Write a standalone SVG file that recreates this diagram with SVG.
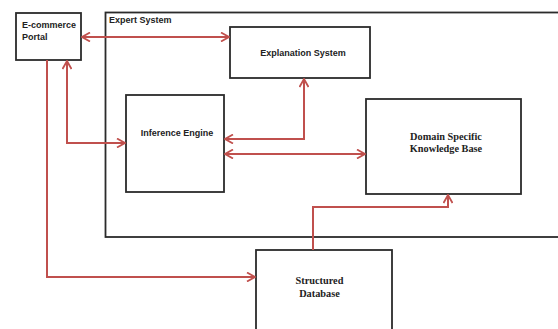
<svg xmlns="http://www.w3.org/2000/svg" width="558" height="329" viewBox="0 0 558 329">
<style>
.box{fill:#fff;stroke:#2b2b2b;stroke-width:1.8}
.sans{font-family:"Liberation Sans",Arial,sans-serif;font-weight:bold;font-size:9px;fill:#222}
.serif{font-family:"Liberation Serif","Times New Roman",serif;font-weight:bold;font-size:10.3px;fill:#222}
.con{fill:none;stroke:#c0504d;stroke-width:2}
</style>
<defs>
<marker id="ah" viewBox="0 0 10 10" refX="9" refY="5" markerWidth="10" markerHeight="10" markerUnits="userSpaceOnUse" orient="auto-start-reverse">
<path d="M1,0.5 L9,5 L1,9.5" fill="none" stroke="#c0504d" stroke-width="1.8"/>
</marker>
</defs>
<rect width="558" height="329" fill="#fff"/>
<g id="expert-system">
<rect class="box" x="105.5" y="12.5" width="460" height="224.5"/>
<text class="sans" x="109" y="23">Expert System</text>
</g>
<g id="ecommerce-portal">
<rect class="box" x="16" y="13" width="65" height="47"/>
<text class="sans" x="22" y="28">E-commerce</text>
<text class="sans" x="22" y="40">Portal</text>
</g>
<g id="explanation-system">
<rect class="box" x="230" y="27" width="140" height="51"/>
<text class="sans" x="303" y="56" text-anchor="middle">Explanation System</text>
</g>
<g id="inference-engine">
<rect class="box" x="126" y="95" width="98" height="97"/>
<text class="sans" x="177" y="136" text-anchor="middle">Inference Engine</text>
</g>
<g id="domain-kb">
<rect class="box" x="366" y="99" width="155" height="95"/>
<text class="serif" x="446" y="139.5" text-anchor="middle">Domain Specific</text>
<text class="serif" x="446" y="151.5" text-anchor="middle">Knowledge Base</text>
</g>
<g id="structured-db">
<rect class="box" x="256" y="250" width="136" height="100"/>
<text class="serif" x="319.5" y="284" text-anchor="middle">Structured</text>
<text class="serif" x="319.5" y="296.5" text-anchor="middle">Database</text>
</g>
<g id="connectors">
<path class="con" d="M82,37 H229" marker-start="url(#ah)" marker-end="url(#ah)"/>
<path class="con" d="M67,61 V143 H125" marker-start="url(#ah)" marker-end="url(#ah)"/>
<path class="con" d="M47,60 V277 H255" marker-end="url(#ah)"/>
<path class="con" d="M225,139 H304 V79" marker-start="url(#ah)" marker-end="url(#ah)"/>
<path class="con" d="M225,154 H365" marker-start="url(#ah)" marker-end="url(#ah)"/>
<path class="con" d="M313,250 V207 H448 V195" marker-end="url(#ah)"/>
</g>
</svg>
